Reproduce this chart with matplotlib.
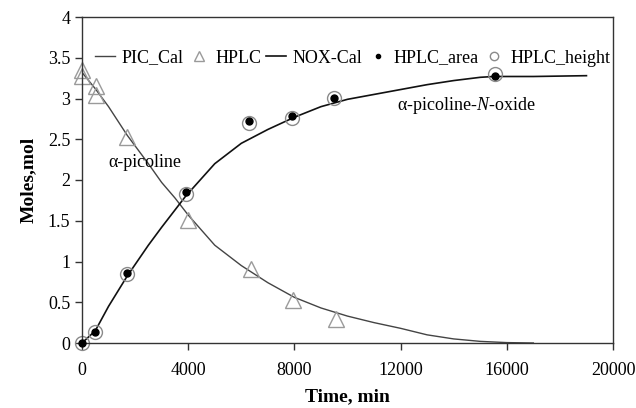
import matplotlib.pyplot as plt
import numpy as np

plt.rcParams['font.family'] = ['Liberation Serif', 'DejaVu Serif']
plt.rcParams['mathtext.fontset'] = 'custom'
plt.rcParams['mathtext.it'] = 'Liberation Serif:italic'

### data #####################################################################
t_pic_cal = [0, 500, 1000, 1700, 2500, 3000, 3500, 4000, 5000, 6000, 7000,
             8000, 9000, 10000, 11000, 12000, 13000, 14000, 15000, 16000, 17000]
pic_cal = [3.32, 3.12, 2.9, 2.55, 2.2, 1.97, 1.78, 1.57, 1.2, 0.95, 0.74,
           0.56, 0.43, 0.33, 0.25, 0.18, 0.1, 0.05, 0.02, 0.005, 0.0]

t_hplc = [0, 0, 530, 530, 1700, 4000, 6380, 7960, 9550]
hplc = [3.35, 3.27, 3.15, 3.04, 2.53, 1.51, 0.91, 0.53, 0.3]

t_nox_cal = [0, 500, 1000, 1700, 2500, 3000, 3900, 5000, 6000, 7000, 8000,
             9000, 10000, 11000, 12000, 13000, 14000, 15000, 15500, 17000, 19000]
nox_cal = [0.0, 0.15, 0.45, 0.82, 1.2, 1.42, 1.8, 2.2, 2.45, 2.62, 2.77,
           2.9, 2.99, 3.05, 3.11, 3.17, 3.22, 3.26, 3.27, 3.27, 3.28]

t_nox = [0, 500, 1700, 3900, 6300, 7900, 9500, 15550]
hplc_area = [0.0, 0.14, 0.86, 1.85, 2.73, 2.78, 3.01, 3.27]
hplc_height = [0.0, 0.14, 0.85, 1.83, 2.70, 2.76, 3.01, 3.30]

### plot #####################################################################
fig = plt.figure(figsize=(6.36, 4.08), dpi=100)
ax = fig.add_axes([82/636, 1-343/408, 531/636, 326/408])

ax.plot(t_pic_cal, pic_cal, '-', c='#444444', lw=1.0, label='PIC_Cal')
ax.plot(t_hplc, hplc, '^', ms=11, mfc='none', mec='#9a9a9a', mew=1.0,
        label='HPLC', clip_on=False)
ax.plot(t_nox_cal, nox_cal, '-', c='#111111', lw=1.2, label='NOX-Cal')
ax.plot(t_nox, hplc_area, 'o', ms=5, c='black', label='HPLC_area',
        clip_on=False, zorder=4)
ax.plot(t_nox, hplc_height, 'o', ms=10, mfc='none', mec='#8a8a8a', mew=1.0,
        label='HPLC_height', clip_on=False)

ax.set_xlim(0, 20000)
ax.set_ylim(0, 4)
ax.set_xticks([0, 4000, 8000, 12000, 16000, 20000])
ax.set_yticks([0, 0.5, 1, 1.5, 2, 2.5, 3, 3.5, 4])
ax.set_yticklabels(['0', '0.5', '1', '1.5', '2', '2.5', '3', '3.5', '4'])
ax.tick_params(direction='out', length=5, width=1, labelsize=13, color='#333333')
ax.tick_params(axis='x', pad=9)
for s in ax.spines.values():
    s.set_linewidth(1.0)
    s.set_color('#333333')

ax.set_xlabel('Time, min', fontsize=14, fontweight='bold', labelpad=6)
ax.set_ylabel('Moles,mol', fontsize=14, fontweight='bold', labelpad=8)

ax.text(1000, 2.22, 'α-picoline', fontsize=13, va='center')
ax.text(11850, 2.92, 'α-picoline-$N$-oxide', fontsize=13, va='center')

leg = ax.legend(loc='upper left', bbox_to_anchor=(0.025, 0.9), ncol=5,
                frameon=False, fontsize=13, handlelength=1.1, handletextpad=0.35,
                columnspacing=0.3, borderaxespad=0.0, borderpad=0.0,
                markerscale=0.6)

fig.savefig('out.png', dpi=100)
